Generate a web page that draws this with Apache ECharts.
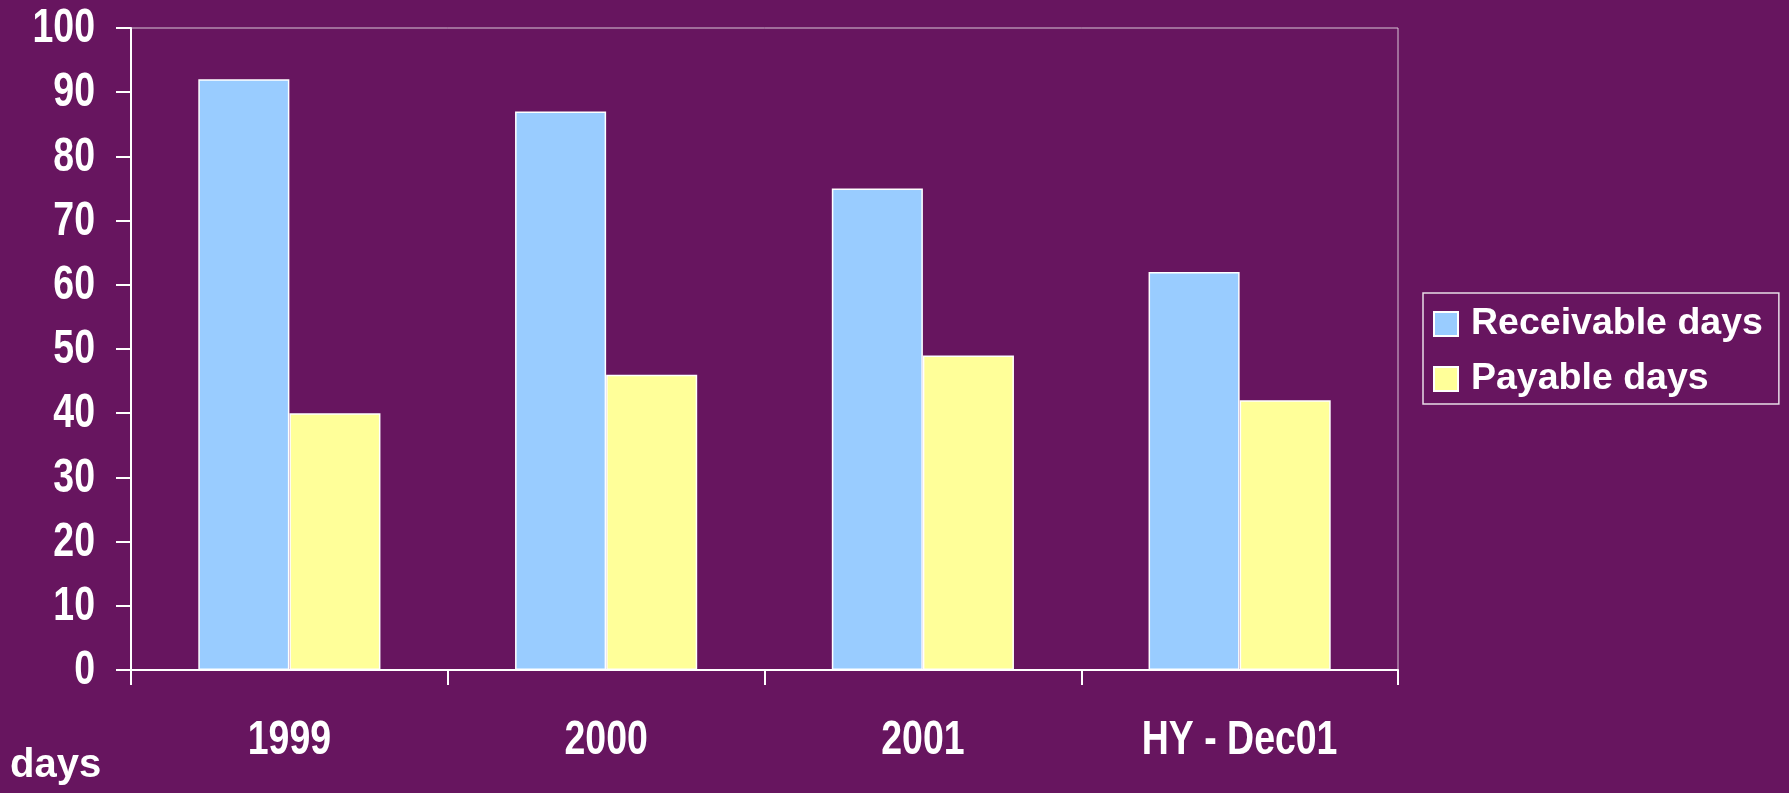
<!DOCTYPE html>
<html>
<head>
<meta charset="utf-8">
<script src="https://cdn.jsdelivr.net/npm/echarts@6/dist/echarts.min.js"></script>
<style>
html,body{margin:0;padding:0;background:#67155F;}
#chart{width:1789px;height:793px;}
</style>
</head>
<body>
<div id="chart"></div>
<script>
var categories = ['1999', '2000', '2001', 'HY - Dec01'];
var receivableDays = [92, 87, 75, 62];
var payableDays = [40, 46, 49, 42];
var seriesNames = ['Receivable days', 'Payable days'];
var yTickValues = [0, 10, 20, 30, 40, 50, 60, 70, 80, 90, 100];
var yAxisTitle = 'days';

var wide = '"Liberation Sans", Arial, sans-serif';
var labelFont = 'bold 48px ' + wide;
var squeeze = 0.78;

var chart = echarts.init(document.getElementById('chart'));
chart.setOption({
  backgroundColor: '#67155F',
  animation: false,
  grid: {
    left: 131, right: 391, top: 28, bottom: 123,
    show: true, borderColor: '#d9c6d6', borderWidth: 1, backgroundColor: 'transparent'
  },
  legend: {
    orient: 'vertical',
    left: 1423, top: 293,
    data: seriesNames,
    itemWidth: 24, itemHeight: 24, itemGap: 17,
    borderColor: '#e8dce6', borderWidth: 1.5,
    padding: [12, 16, 6, 10],
    icon: 'rect',
    textStyle: { color: '#ffffff', fontSize: 37.5, fontWeight: 'bold', fontFamily: wide, lineHeight: 38, padding: [0, 0, 0, 8] }
  },
  xAxis: {
    type: 'category',
    data: categories,
    axisLine: { lineStyle: { color: '#ffffff', width: 2 } },
    axisTick: { show: true, length: 15, alignWithLabel: false, lineStyle: { color: '#ffffff', width: 2 } },
    axisLabel: { show: false }
  },
  yAxis: {
    type: 'value', min: 0, max: 100, interval: 10,
    axisLine: { show: true, lineStyle: { color: '#ffffff', width: 2 } },
    axisTick: { show: true, length: 15, lineStyle: { color: '#ffffff', width: 2 } },
    splitLine: { show: false },
    axisLabel: { show: false }
  },
  series: [
    { name: seriesNames[0], type: 'bar', data: receivableDays, barGap: '0%', barCategoryGap: '42.5%',
      itemStyle: { color: '#99CCFF', borderColor: '#ffffff', borderWidth: 1.5 } },
    { name: seriesNames[1], type: 'bar', data: payableDays, barGap: '0%', barCategoryGap: '42.5%',
      itemStyle: { color: '#FFFF99', borderColor: '#ffffff', borderWidth: 1.5 } }
  ]
});

// Axis labels drawn as condensed text, positioned through the chart's own scales
var g = [];
yTickValues.forEach(function (v) {
  var p = chart.convertToPixel({ gridIndex: 0 }, [categories[0], v]);
  var axisX = chart.getModel().getComponent('grid', 0).coordinateSystem.getRect().x;
  g.push({ type: 'text', x: axisX - 36, y: p[1] + 1, scaleX: squeeze, silent: true,
    style: { text: String(v), font: labelFont, fill: '#ffffff', align: 'right', verticalAlign: 'middle' } });
});
categories.forEach(function (c) {
  var p = chart.convertToPixel({ gridIndex: 0 }, [c, 0]);
  g.push({ type: 'text', x: p[0], y: p[1] + 71, scaleX: squeeze, silent: true,
    style: { text: c, font: labelFont, fill: '#ffffff', align: 'center', verticalAlign: 'middle' } });
});
g.push({ type: 'text', left: 10, top: 746, silent: true,
  style: { text: yAxisTitle, fill: '#ffffff', font: 'bold 40px ' + wide } });
chart.setOption({ graphic: g });
</script>
</body>
</html>
